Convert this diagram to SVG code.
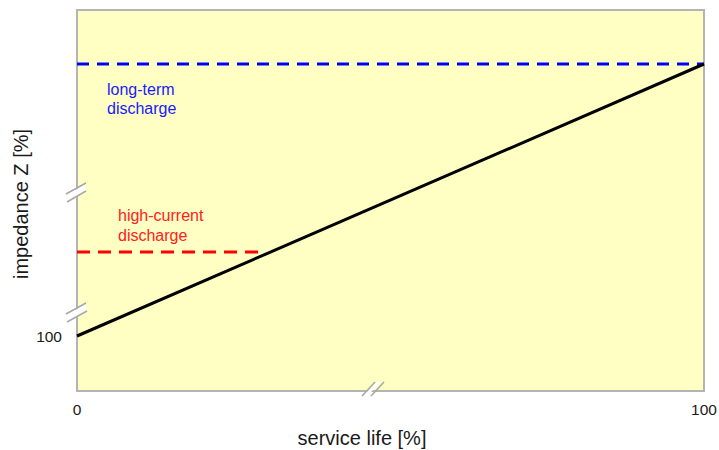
<svg xmlns="http://www.w3.org/2000/svg" width="719" height="450" viewBox="0 0 719 450">
<style>
text{font-family:"Liberation Sans",Arial,sans-serif}
.lbl{font-size:15.5px;fill:#1a1a1a}
.ax{font-size:20px;fill:#1a1a1a}
.blue{font-size:16px;fill:#1a1aff}
.red{font-size:16px;fill:#ff2020}
.brk{stroke:#a8a8a8;stroke-width:1.5;fill:none}
</style>
<rect width="719" height="450" fill="#ffffff"/>
<g id="plot">
<rect x="77" y="10" width="627" height="381" fill="#ffffc4" stroke="#b4b4b4" stroke-width="2"/>
</g>
<g id="breaks">
<polygon points="70,193 86,184 86,191 70,200" fill="#ffffff"/>
<line class="brk" x1="66" y1="194" x2="86" y2="183"/>
<line class="brk" x1="67" y1="202" x2="86" y2="191"/>
<polygon points="70,313 86,304 86,311 70,320" fill="#ffffff"/>
<line class="brk" x1="66" y1="314" x2="86" y2="303"/>
<line class="brk" x1="67" y1="322" x2="87" y2="311"/>
<polygon points="365,394 377,382 381,382 369,394" fill="#ffffff"/>
<line class="brk" x1="362" y1="396" x2="375" y2="382"/>
<line class="brk" x1="371" y1="396" x2="384" y2="382"/>
</g>
<g id="connectors">
<line x1="77" y1="64" x2="704" y2="64" stroke="#0000ff" stroke-width="3" stroke-dasharray="12,8"/>
<line x1="77" y1="252" x2="265" y2="252" stroke="#ff0000" stroke-width="3" stroke-dasharray="13,8"/>
<line x1="77" y1="336" x2="704" y2="64" stroke="#000000" stroke-width="3"/>
</g>
<g id="long-term">
<text class="blue" x="107" y="95">long-term</text>
<text class="blue" x="107" y="114">discharge</text>
</g>
<g id="high-current">
<text class="red" x="118" y="221">high-current</text>
<text class="red" x="118" y="241">discharge</text>
</g>
<g id="axis-labels">
<text class="lbl" x="62" y="342" text-anchor="end">100</text>
<text class="lbl" x="77" y="415" text-anchor="middle">0</text>
<text class="lbl" x="704" y="415" text-anchor="middle">100</text>
<text class="ax" x="362" y="445" text-anchor="middle">service life [%]</text>
<text class="ax" transform="translate(28,204) rotate(-90)" text-anchor="middle">impedance Z [%]</text>
</g>
</svg>
